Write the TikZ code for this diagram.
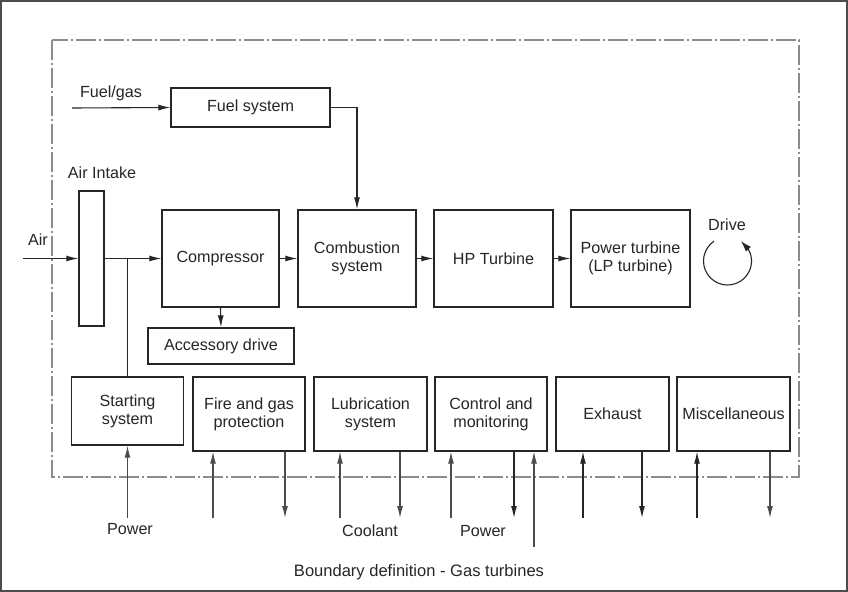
\documentclass[tikz,border=0pt]{standalone}
\usepackage{fontspec}
\setmainfont{Liberation Sans}
\usetikzlibrary{arrows.meta,bending}
\begin{document}
\begin{tikzpicture}[x=1bp,y=-1bp,
  every node/.style={font=\fontsize{16.2}{18}\selectfont, text=black!85},
  blk/.style={draw=black!85, line width=1.3bp, align=center, inner sep=0pt},
  lbl/.style={inner sep=0pt},
  tip/.style={-{Latex[length=12bp,width=6bp]}},
  flow/.style={draw=black!85, line width=1.1bp, tip},
  plain/.style={draw=black!85, line width=1.1bp},
  ext/.style={draw=black!70, line width=1.1bp, tip},
  boundary/.style={draw=black!45, line width=1.1bp, dash pattern=on 20bp off 3bp on 2bp off 3bp}]
  % canvas and frame
  \useasboundingbox (0,0) rectangle (848,592);
  \fill[white] (0,0) rectangle (848,592);
  \draw[black!70, line width=1.5bp] (1,1) rectangle (847,591);

  % system boundary
  \draw[boundary] (52,40) rectangle (799,477);

  % top row: fuel supply
  \node[blk, minimum width=159bp, minimum height=39bp] (fuel) at (250.5,107.5) {Fuel system};
  \node[lbl] (fuelgas) at (111,93) {Fuel/gas};
  \coordinate (fuelin) at (72,108);

  % air path
  \node[blk, minimum width=25bp, minimum height=135bp] (intake) at (91.5,258.5) {};
  \node[lbl] (intakelbl) at (102,173) {Air Intake};
  \node[lbl] (airlbl) at (38,240) {Air};
  \coordinate (airin) at (23,258.5);

  % main train
  \node[blk, minimum width=117bp, minimum height=97bp] (comp) at (220.5,258.5) {Compressor};
  \node[blk, minimum width=118bp, minimum height=97bp] (comb) at (357,258.5) {Combustion\\system};
  \node[blk, minimum width=119bp, minimum height=97bp] (hp) at (493.5,258.5) {HP Turbine};
  \node[blk, minimum width=119bp, minimum height=97bp] (pt) at (630.5,258.5) {Power turbine\\(LP turbine)};
  \node[blk, minimum width=146bp, minimum height=36bp] (acc) at (221,346) {Accessory drive};

  % drive symbol: open circle turning counter-clockwise
  \node[lbl] (drive) at (727,225) {Drive};
  \coordinate (dc) at (727.5,261);
  \draw[plain, -{Latex[length=11bp,width=7bp,flex]}] ([shift={(124:24bp)}]dc) arc[start angle=124, end angle=416, radius=24bp];

  % bottom row of auxiliary systems
  \node[blk, minimum width=112bp, minimum height=68bp] (start) at (127.5,411) {Starting\\system};
  \node[blk, minimum width=112bp, minimum height=74bp] (fire) at (249,414) {Fire and gas\\protection};
  \node[blk, minimum width=113bp, minimum height=74bp] (lub) at (370.5,414) {Lubrication\\system};
  \node[blk, minimum width=112bp, minimum height=74bp] (ctrl) at (491,414) {Control and\\monitoring};
  \node[blk, minimum width=113bp, minimum height=74bp] (exh) at (612.5,414) {Exhaust};
  \node[blk, minimum width=113bp, minimum height=74bp] (misc) at (733.5,414) {Miscellaneous};

  % flows inside the boundary
  \draw[flow] (fuelin) -- (fuel.west);
  \draw[flow] (fuel.east) -| (comb.north);
  \draw[flow] (airin) -- (intake.west);
  \draw[flow] (intake.east) -- (comp.west);
  \draw[plain] (start.north) -- (start.north |- comp.west);
  \draw[flow] (comp.east) -- (comb.west);
  \draw[flow] (comb.east) -- (hp.west);
  \draw[flow] (hp.east) -- (pt.west);
  \draw[flow] (comp.south) -- (acc.north);

  % flows across the boundary
  \coordinate (s1) at (127.5,518);
  \coordinate (f1) at (213,518);
  \coordinate (f2) at (285,518);
  \coordinate (l1) at (340,518);
  \coordinate (l2) at (400,518);
  \coordinate (c1) at (451,518);
  \coordinate (c2) at (514,518);
  \coordinate (c3) at (534,547);
  \coordinate (e1) at (583,518);
  \coordinate (e2) at (642,518);
  \coordinate (m1) at (697,518);
  \coordinate (m2) at (770,518);

  \draw[ext] (s1) -- (s1 |- start.south);
  \draw[ext] (f1) -- (f1 |- fire.south);
  \draw[ext] (f2 |- fire.south) -- (f2);
  \draw[ext] (l1) -- (l1 |- lub.south);
  \draw[ext] (l2 |- lub.south) -- (l2);
  \draw[ext] (c1) -- (c1 |- ctrl.south);
  \draw[flow] (c2 |- ctrl.south) -- (c2);
  \draw[ext] (c3) -- (c3 |- ctrl.south);
  \draw[flow] (e1) -- (e1 |- exh.south);
  \draw[flow] (e2 |- exh.south) -- (e2);
  \draw[flow] (m1) -- (m1 |- misc.south);
  \draw[ext] (m2 |- misc.south) -- (m2);

  % external labels
  \node[lbl] (pw1) at (130,529) {Power};
  \node[lbl] (cool) at (370,531) {Coolant};
  \node[lbl] (pw2) at (483,531) {Power};
  \node[lbl, font=\fontsize{16.6}{18}\selectfont] (cap) at (419,572) {Boundary definition - Gas turbines};
\end{tikzpicture}
\end{document}
